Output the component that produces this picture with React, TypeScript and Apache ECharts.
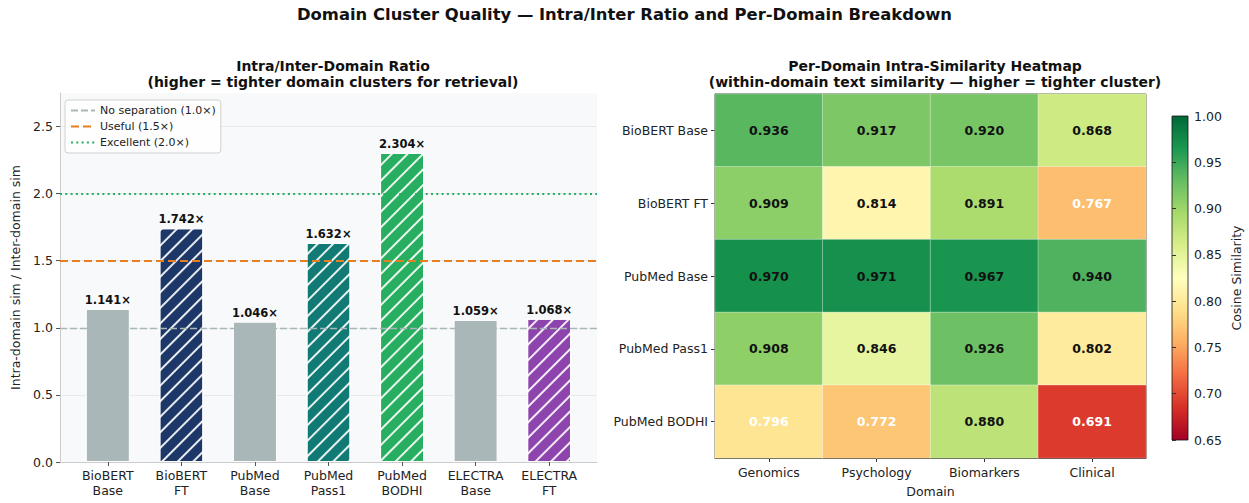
import React, { useEffect, useRef } from "react";
import * as echarts from "echarts";

const FONT = "DejaVu Sans";

const mainTitle = "Domain Cluster Quality — Intra/Inter Ratio and Per-Domain Breakdown";
const leftTitle = "Intra/Inter-Domain Ratio\n(higher = tighter domain clusters for retrieval)";
const rightTitle = "Per-Domain Intra-Similarity Heatmap\n(within-domain text similarity — higher = tighter cluster)";

const models = ["BioBERT\nBase", "BioBERT\nFT", "PubMed\nBase", "PubMed\nPass1", "PubMed\nBODHI", "ELECTRA\nBase", "ELECTRA\nFT"];
const ratios = [1.141, 1.742, 1.046, 1.632, 2.304, 1.059, 1.068];
const barColors = ["#aab7b8", "#1d3868", "#aab7b8", "#117a74", "#27ae60", "#aab7b8", "#8e44ad"];
const hatched = [false, true, false, true, true, false, true];

const thresholds = [1.0, 1.5, 2.0];
const thresholdNames = ["No separation (1.0×)", "Useful (1.5×)", "Excellent (2.0×)"];
const thresholdColors = ["#aab7b8", "#e67e22", "#27ae60"];
const thresholdDash = [[7, 3], [8, 4], [2, 3.3]];
const thresholdWidth = [1.4, 2, 2];

const yTicks = [0, 0.5, 1.0, 1.5, 2.0, 2.5];

const domains = ["Genomics", "Psychology", "Biomarkers", "Clinical"];
const heatRows = ["BioBERT Base", "BioBERT FT", "PubMed Base", "PubMed Pass1", "PubMed BODHI"];
const heatValues = [
  [0.936, 0.917, 0.920, 0.868],
  [0.909, 0.814, 0.891, 0.767],
  [0.970, 0.971, 0.967, 0.940],
  [0.908, 0.846, 0.926, 0.802],
  [0.796, 0.772, 0.880, 0.691],
];

const rdYlGn = ["#a50026", "#d73027", "#f46d43", "#fdae61", "#fee08b", "#ffffbf", "#d9ef8b", "#a6d96a", "#66bd63", "#1a9850", "#006837"];
const cMin = 0.65;
const cMax = 1.0;

export default function App() {
  const ref = useRef<HTMLDivElement>(null);
  useEffect(() => {
    document.body.style.margin = "0";
    if (!ref.current) return;
    const chart = echarts.init(ref.current, undefined, { renderer: "svg" });

    const xIdx = models.map((_, i) => i);

    const barData = ratios.map((v, i) => ({
      value: [i, v],
      itemStyle: {
        color: barColors[i],
        decal: hatched[i]
          ? {
              symbol: "rect",
              symbolSize: 1,
              dashArrayX: [1, 0],
              dashArrayY: [1.5, 9],
              rotation: -Math.PI / 4,
              color: "rgba(255,255,255,0.9)",
            }
          : "none",
      },
    }));

    const heatData: any[] = [];
    heatValues.forEach((row, r) =>
      row.forEach((v, c) =>
        heatData.push({
          value: [c, r, v],
          label: { color: v < 0.8 ? "#ffffff" : "#111111" },
        })
      )
    );

    const gradStops = rdYlGn
      .map((c, i) => ({ offset: 1 - i / (rdYlGn.length - 1), color: c }))
      .reverse();

    const thresholdSeries = thresholds.map((t, i) => ({
      type: "line",
      name: thresholdNames[i],
      xAxisIndex: 0,
      yAxisIndex: 0,
      data: [],
      symbol: "none",
      z: 1,
      lineStyle: { color: thresholdColors[i], type: thresholdDash[i], width: thresholdWidth[i] },
      itemStyle: { color: thresholdColors[i] },
      markLine: {
        silent: true,
        symbol: "none",
        label: { show: false },
        lineStyle: { color: thresholdColors[i], type: thresholdDash[i], width: thresholdWidth[i] },
        data: [{ yAxis: t }],
      },
    }));

    const axisText = { fontFamily: FONT, fontSize: 12.5, color: "#222" };

    chart.setOption({
      animation: false,
      textStyle: { fontFamily: FONT },
      title: [
        {
          text: mainTitle,
          left: "center",
          top: 1,
          textStyle: { fontFamily: FONT, fontSize: 16.4, fontWeight: "bold", color: "#111" },
        },
        {
          text: leftTitle,
          left: 328,
          top: 53,
          textAlign: "center",
          textStyle: { fontFamily: FONT, fontSize: 14, fontWeight: "bold", color: "#111", lineHeight: 16 },
        },
        {
          text: rightTitle,
          left: 930,
          top: 53,
          textAlign: "center",
          textStyle: { fontFamily: FONT, fontSize: 14, fontWeight: "bold", color: "#111", lineHeight: 16 },
        },
      ],
      legend: {
        left: 65,
        top: 100,
        orient: "vertical",
        itemWidth: 24,
        itemHeight: 8,
        itemGap: 5,
        padding: [5, 5, 5, 5],
        backgroundColor: "rgba(255,255,255,0.85)",
        borderColor: "#d0d0d0",
        borderWidth: 1,
        borderRadius: 3,
        itemStyle: { opacity: 0 },
        textStyle: { fontFamily: FONT, fontSize: 11, color: "#222" },
        data: thresholdNames,
      },
      grid: [
        { left: 60, top: 93, width: 537, height: 369, show: true, backgroundColor: "#f8f9fa", borderWidth: 0 },
        { left: 715, top: 94, width: 431, height: 368, show: true, borderColor: "#111", borderWidth: 1, backgroundColor: "transparent" },
        {
          left: 1172,
          top: 116,
          width: 16,
          height: 324,
          show: true,
          borderColor: "#111",
          borderWidth: 0.8,
          backgroundColor: new echarts.graphic.LinearGradient(0, 0, 0, 1, gradStops),
        },
      ],
      xAxis: [
        {
          type: "value",
          gridIndex: 0,
          min: -0.65,
          max: 6.65,
          splitLine: { show: false },
          axisLine: { show: true, onZero: false, lineStyle: { color: "#cccccc", width: 1 } },
          axisTick: { show: true, customValues: xIdx, length: 4, lineStyle: { color: "#555" } },
          axisLabel: {
            customValues: xIdx,
            formatter: (v: number) => models[Math.round(v)] ?? "",
            ...axisText,
            lineHeight: 15,
            margin: 6,
          },
        },
        {
          type: "category",
          gridIndex: 1,
          data: domains,
          position: "bottom",
          name: "Domain",
          nameLocation: "middle",
          nameGap: 27,
          nameTextStyle: { ...axisText },
          axisLine: { show: true, lineStyle: { color: "#111" } },
          axisTick: { show: true, alignWithLabel: true, length: 4, lineStyle: { color: "#333" } },
          axisLabel: { ...axisText, margin: 8 },
          splitLine: { show: false },
        },
        { type: "value", gridIndex: 2, show: false, min: 0, max: 1 },
      ],
      yAxis: [
        {
          type: "value",
          gridIndex: 0,
          min: 0,
          max: 2.75,
          name: "Intra-domain sim / Inter-domain sim",
          nameLocation: "middle",
          nameGap: 38,
          nameTextStyle: { fontFamily: FONT, fontSize: 12.5, color: "#222" },
          axisLine: { show: true, onZero: false, lineStyle: { color: "#cccccc" } },
          axisTick: { show: true, customValues: yTicks, length: 4, lineStyle: { color: "#555" } },
          axisLabel: { customValues: yTicks, formatter: (v: number) => v.toFixed(1), ...axisText, margin: 7 },
          splitLine: { show: true, lineStyle: { color: "#e6e8ea", width: 1 } },
        },
        {
          type: "category",
          gridIndex: 1,
          data: heatRows,
          inverse: true,
          axisLine: { show: true, lineStyle: { color: "#111" } },
          axisTick: { show: true, alignWithLabel: true, length: 4, lineStyle: { color: "#333" } },
          axisLabel: { ...axisText, margin: 7 },
          splitLine: { show: false },
        },
        {
          type: "value",
          gridIndex: 2,
          position: "right",
          min: cMin,
          max: cMax,
          interval: 0.05,
          name: "Cosine Similarity",
          nameLocation: "middle",
          nameRotate: 90,
          nameGap: 42,
          nameTextStyle: { fontFamily: FONT, fontSize: 12.5, color: "#222" },
          axisLine: { show: false },
          axisTick: { show: true, length: 4, lineStyle: { color: "#333" } },
          axisLabel: { formatter: (v: number) => v.toFixed(2), ...axisText, margin: 6 },
          splitLine: { show: false },
        },
      ],
      visualMap: {
        type: "continuous",
        show: false,
        min: cMin,
        max: cMax,
        dimension: 2,
        seriesIndex: 4,
        inRange: { color: rdYlGn },
      },
      series: [
        ...thresholdSeries,
        {
          type: "bar",
          name: "ratio",
          xAxisIndex: 0,
          yAxisIndex: 0,
          barWidth: 44,
          z: 3,
          data: barData,
          itemStyle: { borderColor: "#ffffff", borderWidth: 1 },
          label: {
            show: true,
            position: "top",
            distance: 3,
            formatter: (p: any) => p.value[1].toFixed(3) + "×",
            fontFamily: FONT,
            fontSize: 11.5,
            fontWeight: "bold",
            color: "#111",
          },
        },
        {
          type: "heatmap",
          name: "heat",
          xAxisIndex: 1,
          yAxisIndex: 1,
          data: heatData,
          itemStyle: { borderColor: "rgba(255,255,255,0.45)", borderWidth: 0.8 },
          label: {
            show: true,
            formatter: (p: any) => p.value[2].toFixed(3),
            fontFamily: FONT,
            fontSize: 12.5,
            fontWeight: "bold",
          },
        },
      ],
    });
    return () => chart.dispose();
  }, []);
  return <div ref={ref} style={{ width: 1249, height: 503 }} />;
}
